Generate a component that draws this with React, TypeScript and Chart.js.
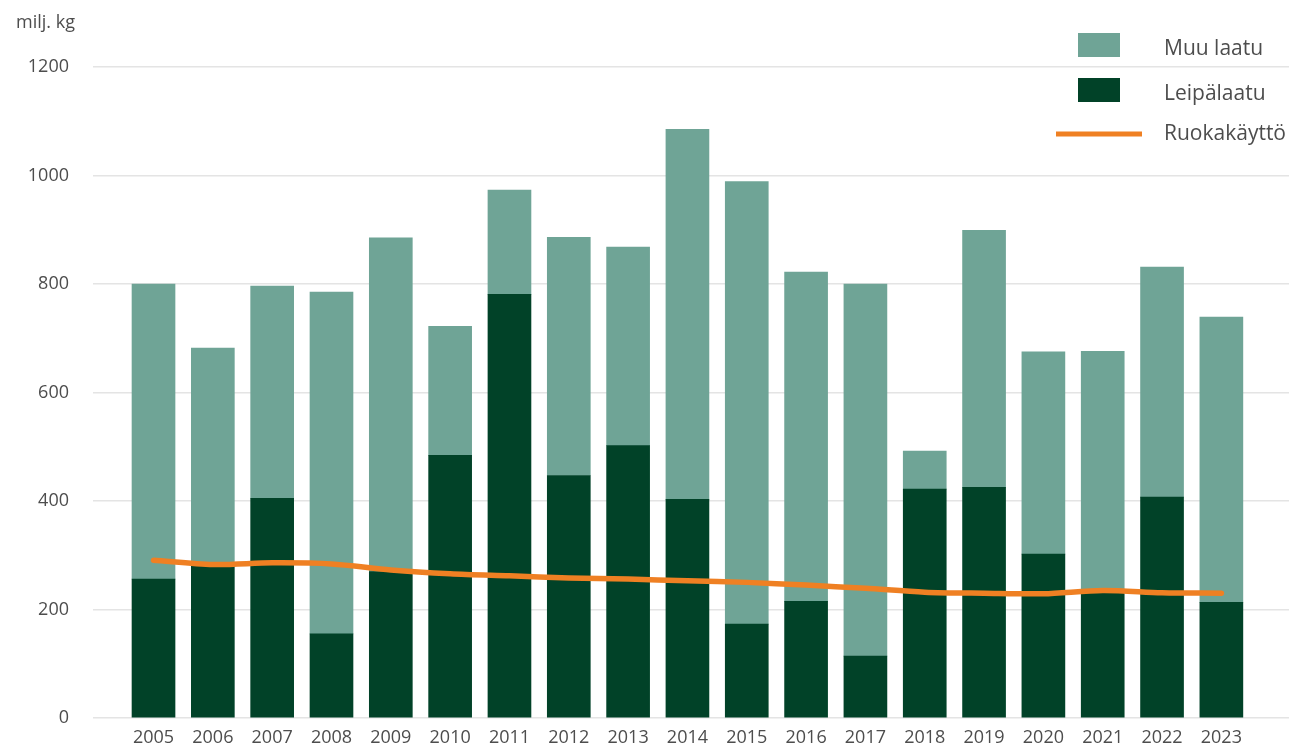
import React, { useEffect, useRef } from "react";
import { Chart, registerables } from "chart.js";

Chart.register(...registerables);

const years = [2005, 2006, 2007, 2008, 2009, 2010, 2011, 2012, 2013, 2014, 2015, 2016, 2017, 2018, 2019, 2020, 2021, 2022, 2023];
const leipalaatu = [256, 282, 405, 155, 270, 484, 781, 447, 502, 403, 173, 215, 114, 422, 425, 302, 232, 407, 213];
const muuLaatu = [544, 400, 391, 630, 615, 238, 192, 439, 366, 682, 816, 607, 686, 70, 474, 373, 444, 424, 526];
const ruokakaytto = [291, 283, 286, 284, 273, 266, 262, 258, 256, 253, 250, 245, 239, 232, 230, 229, 235, 231, 230];
const yTicks = [0, 200, 400, 600, 800, 1000, 1200];
const unitLabel = "milj. kg";

const FONT = "'Open Sans', 'Noto Sans', sans-serif";
const TEXT = "#4d4d4d";
const DARK = "#014228";
const LIGHT = "#6fa496";
const ORANGE = "#ef8023";

const overlayPlugin = {
  id: "overlay",
  afterDraw(chart: any) {
    const ctx = chart.ctx;
    ctx.save();
    // unit label
    ctx.fillStyle = TEXT;
    ctx.font = `18px ${FONT}`;
    ctx.textAlign = "left";
    ctx.textBaseline = "alphabetic";
    ctx.fillText(unitLabel, 16, 28);

    // legend
    const order = [2, 1, 0];
    const rows = [45, 90, 134];
    ctx.font = `21px ${FONT}`;
    ctx.textBaseline = "middle";
    order.forEach((di, i) => {
      const ds = chart.data.datasets[di];
      const y = rows[i];
      let textShift = 4;
      if (ds.type === "line") {
        textShift = 0;
        ctx.strokeStyle = ds.borderColor;
        ctx.lineWidth = 5;
        ctx.lineCap = "butt";
        ctx.beginPath();
        ctx.moveTo(1056, y);
        ctx.lineTo(1142, y);
        ctx.stroke();
      } else {
        ctx.fillStyle = ds.backgroundColor;
        ctx.fillRect(1078, y - 12, 42, 24);
      }
      ctx.fillStyle = TEXT;
      ctx.fillText(ds.label, 1164, y + textShift);
    });
    ctx.restore();
  },
};

export default function App() {
  const ref = useRef<HTMLCanvasElement>(null);

  useEffect(() => {
    if (!ref.current) return;
    const chart = new Chart(ref.current, {
      type: "bar",
      data: {
        datasets: [
          {
            type: "line",
            label: "Ruokakäyttö",
            data: years.map((y, i) => ({ x: y, y: ruokakaytto[i] })),
            borderColor: ORANGE,
            backgroundColor: ORANGE,
            borderWidth: 5.5,
            pointRadius: 0,
            tension: 0.3,
            borderCapStyle: "round",
            stack: "line",
            order: 0,
          } as any,
          {
            type: "bar",
            label: "Leipälaatu",
            data: years.map((y, i) => ({ x: y, y: leipalaatu[i] })),
            backgroundColor: DARK,
            barThickness: 43,
            stack: "bars",
            order: 1,
          },
          {
            type: "bar",
            label: "Muu laatu",
            data: years.map((y, i) => ({ x: y, y: muuLaatu[i] })),
            backgroundColor: LIGHT,
            barThickness: 43,
            stack: "bars",
            order: 1,
          },
        ],
      },
      options: {
        responsive: false,
        animation: false,
        maintainAspectRatio: false,
        layout: { padding: { top: 67, left: 0, right: 0, bottom: 0 } },
        plugins: { legend: { display: false }, tooltip: { enabled: false } },
        scales: {
          x: {
            type: "linear",
            stacked: true,
            offset: false,
            bounds: "data",
            min: 2003.98,
            max: 2024.14,
            grid: { display: false, drawTicks: false, offset: false },
            border: { display: false },
            afterBuildTicks: (s: any) => {
              s.ticks = years.map((v) => ({ value: v }));
            },
            afterFit: (s: any) => {
              s.height = 28;
              s.paddingLeft = 0;
              s.paddingRight = 0;
            },
            ticks: {
              autoSkip: false,
              maxRotation: 0,
              padding: 9,
              color: TEXT,
              font: { family: FONT, size: 18 },
              callback: (v: any) => String(v),
            },
          },
          y: {
            stacked: true,
            min: 0,
            max: 1200,
            afterBuildTicks: (s: any) => {
              s.ticks = yTicks.map((v) => ({ value: v }));
            },
            afterFit: (s: any) => {
              s.width = 93;
              s.paddingTop = 0;
              s.paddingBottom = 0;
            },
            grid: { color: "#e4e4e4", lineWidth: 1.5, drawTicks: false },
            border: { display: false },
            ticks: {
              padding: 24,
              color: TEXT,
              font: { family: FONT, size: 18 },
              callback: (v: any) => String(v),
            },
          },
        },
      },
      plugins: [overlayPlugin],
    });
    return () => chart.destroy();
  }, []);

  return (
    <div style={{ position: "fixed", left: 0, top: 0, width: 1289, height: 746, background: "#fff" }}>
      <canvas ref={ref} width={1289} height={746} style={{ width: 1289, height: 746, display: "block" }} />
    </div>
  );
}
